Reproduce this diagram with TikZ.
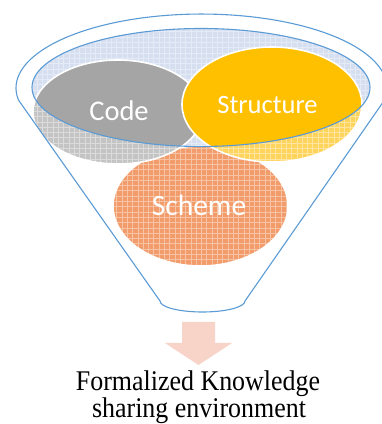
\documentclass[tikz,border=0pt]{standalone}
\usepackage{fontspec}
\setmainfont{Liberation Serif}
\newfontfamily\labelfont{Carlito}
\definecolor{funnelblue}{HTML}{5B9BD5}
\definecolor{openblue}{HTML}{D5DFF0}
\definecolor{codegray}{HTML}{A5A5A5}
\definecolor{codegraylt}{HTML}{C4C4C4}
\definecolor{structyel}{HTML}{FFC000}
\definecolor{structyellt}{HTML}{FFD45C}
\definecolor{schemeorg}{HTML}{F19C6A}
\definecolor{arrowpink}{HTML}{F8D3C8}

% fill a region with a light colour and a fine white grid texture
\newcommand\texturefill[2]{%
  \begin{scope}
    \clip #1;
    \fill[#2] (0,0) rectangle (382,424);
    \draw[white, line width=0.6pt, opacity=0.4, step=5.3pt] (0,0) grid (382,424);
  \end{scope}}

\begin{document}
\begin{tikzpicture}[x=1pt, y=1pt,
  rim/.style={draw=funnelblue, line width=1.1pt},
  bubble/.style={draw=white, line width=1.6pt},
  bubbletext/.style={text=white, anchor=base, inner sep=0pt},
  caption/.style={anchor=base, inner sep=0pt, xscale=0.91,
    font=\fontsize{28.5}{30}\selectfont}]
\useasboundingbox (0,0) rectangle (382,424);

% funnel body
\path[fill=white] (160,123) -- (18.45,324)
  arc[start angle=189.3, end angle=-9.3, x radius=185.5pt, y radius=74pt]
  -- (245,123)
  arc[start angle=0, end angle=-180, x radius=42.5pt, y radius=11pt] -- cycle;

% opening of the funnel
\texturefill{(201,336.5) ellipse [x radius=169pt, y radius=59pt]}{openblue}

% Scheme (seen through the funnel wall)
\texturefill{(200.5,218) ellipse [x radius=87.5pt, y radius=60pt]}{schemeorg}
\draw[bubble] (200.5,218) ellipse [x radius=87.5pt, y radius=60pt];

% Code
\texturefill{(118,312) ellipse [x radius=85pt, y radius=52pt]}{codegraylt}
\begin{scope}
  \clip (201,336.5) ellipse [x radius=169pt, y radius=59pt];
  \fill[codegray] (118,312) ellipse [x radius=85pt, y radius=52pt];
\end{scope}
\draw[bubble] (118,312) ellipse [x radius=85pt, y radius=52pt];

% Structure
\texturefill{(272,319.5) ellipse [x radius=90pt, y radius=57.5pt]}{structyellt}
\begin{scope}
  \clip (201,336.5) ellipse [x radius=169pt, y radius=59pt];
  \fill[structyel] (272,319.5) ellipse [x radius=90pt, y radius=57.5pt];
\end{scope}
\draw[bubble] (272,319.5) ellipse [x radius=90pt, y radius=57.5pt];

% outlines of the opening and of the funnel
\draw[rim] (201,336.5) ellipse [x radius=169pt, y radius=59pt];
\draw[rim, line join=round] (160,123) -- (18.45,324)
  arc[start angle=189.3, end angle=-9.3, x radius=185.5pt, y radius=74pt]
  -- (245,123)
  arc[start angle=0, end angle=-180, x radius=42.5pt, y radius=11pt] -- cycle;

% labels
\node[bubbletext, font=\labelfont\fontsize{28.5}{30}\selectfont] (code) at (119,303.5) {Code};
\node[bubbletext, font=\labelfont\fontsize{26.5}{28}\selectfont] (structure) at (267.5,310) {Structure};
\node[bubbletext, font=\labelfont\fontsize{29.5}{31}\selectfont] (scheme) at (199,208) {Scheme};

% output arrow
\fill[arrowpink] (182,102) -- (215,102) -- (215,81) -- (232,81) -- (198.5,59)
  -- (165,81) -- (182,81) -- cycle;

% caption
\node[caption] (line1) at (198,34) {Formalized Knowledge};
\node[caption] (line2) at (199,6) {sharing environment};
\end{tikzpicture}
\end{document}
